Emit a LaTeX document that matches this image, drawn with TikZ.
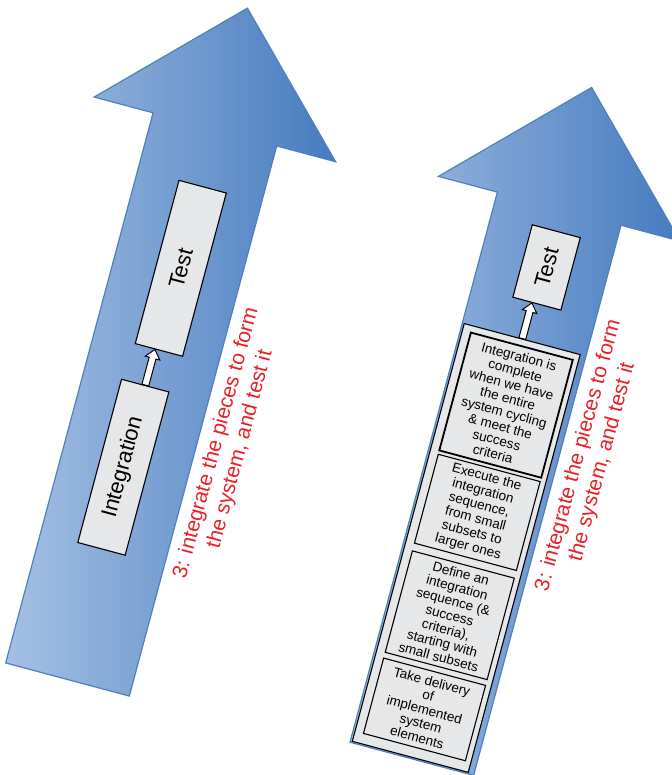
\documentclass[tikz,border=0pt]{standalone}
\usepackage{fontspec}
\setmainfont{Liberation Sans}
\usetikzlibrary{calc}

\definecolor{arrowlight}{RGB}{166,192,228}
\definecolor{arrowdark}{RGB}{70,123,192}
\definecolor{arrowedge}{RGB}{79,129,189}
\definecolor{boxgray}{RGB}{230,231,232}
\definecolor{notered}{RGB}{232,32,40}

\tikzset{
  bigarrow/.style={draw=arrowedge, line width=1.2pt, left color=arrowlight, right color=arrowdark, line join=miter},
  graybox/.style={draw=black, fill=boxgray, line width=1.1pt, inner sep=0pt},
  tallbox/.style={graybox, rotate=90, font=\fontsize{22}{26}\selectfont},
  stagebox/.style={graybox, minimum width=105.5pt, align=center, font=\fontsize{13.5}{14.4}\selectfont},
  note/.style={text=notered, rotate=90, align=center, font=\fontsize{21}{24.5}\selectfont},
  hollow/.style={draw=black, fill=white, line width=1pt, line join=miter},
}

% hollow block arrow from a start point #1 to a tip point #2
\newcommand\hollowarrow[2]{%
  \coordinate (ha-a) at (#1);
  \coordinate (ha-t) at (#2);
  \coordinate (ha-h) at ($(ha-t)!9pt!(ha-a)$);
  \draw[hollow] ($(ha-a)!3.5pt!90:(ha-t)$) -- ($(ha-h)!3.5pt!90:(ha-t)$)
    -- ($(ha-h)!7.5pt!90:(ha-t)$) -- (ha-t) -- ($(ha-h)!7.5pt!-90:(ha-t)$)
    -- ($(ha-h)!3.5pt!-90:(ha-t)$) -- ($(ha-a)!3.5pt!-90:(ha-t)$) -- cycle;
}

\begin{document}
\begin{tikzpicture}[x=1pt,y=1pt]
\useasboundingbox (0,0) rectangle (671,-775);

% first arrow: Integration -> Test
\begin{scope}[shift={(67.5,-679.5)}, rotate=-15, transform shape]
  \draw[bigarrow] (-64,0) -- (-64,569.5) -- (-125,569.5) -- (0,695)
    -- (125,569.5) -- (64,569.5) -- (64,0) -- cycle;
  \node[tallbox, minimum width=169pt, minimum height=49pt] (integ) at (-1,219.5) {Integration};
  \node[tallbox, minimum width=169pt, minimum height=49pt] (test) at (3,426.5) {Test};
  \coordinate (tip) at ($(integ.west)!(test.west)!(integ.east)$);
  \hollowarrow{integ.east}{tip}
  \node[note] (caption) at (95,267) {3: integrate the pieces to form\\the system, and test it};
\end{scope}

% second arrow: the integration steps in detail
\begin{scope}[shift={(411.8,-758.8)}, rotate=-15, transform shape]
  \draw[bigarrow] (-64,0) -- (-64,569.5) -- (-125,569.5) -- (0,695)
    -- (125,569.5) -- (64,569.5) -- (64,0) -- cycle;
  \node[graybox, minimum width=120pt, minimum height=432.5pt] (frame) at (-2,217.75) {};
  \node[stagebox, minimum height=78pt] (take) at (-0.5,51)
    {Take delivery\\of\\implemented\\system\\elements};
  \node[stagebox, minimum height=105pt] (define) at (-0.5,148.5)
    {Define an\\integration\\sequence (\&\\success\\criteria),\\starting with\\small subsets};
  \node[stagebox, minimum height=92pt] (exec) at (-0.5,255)
    {Execute the\\integration\\sequence,\\from small\\subsets to\\larger ones};
  \node[stagebox, minimum height=122pt, line width=1.8pt] (done) at (-0.5,366)
    {Integration is\\complete\\when we have\\the entire\\system cycling\\\& meet the\\success\\criteria};
  \node[tallbox, minimum width=75pt, minimum height=49.7pt] (test2) at (3,509.5) {Test};
  \coordinate (tip2) at ($(frame.south)!(test2.west)!(frame.north)$);
  \hollowarrow{frame.north}{tip2}
  \node[note] (caption2) at (95,336) {3: integrate the pieces to form\\the system, and test it};
\end{scope}
\end{tikzpicture}
\end{document}
